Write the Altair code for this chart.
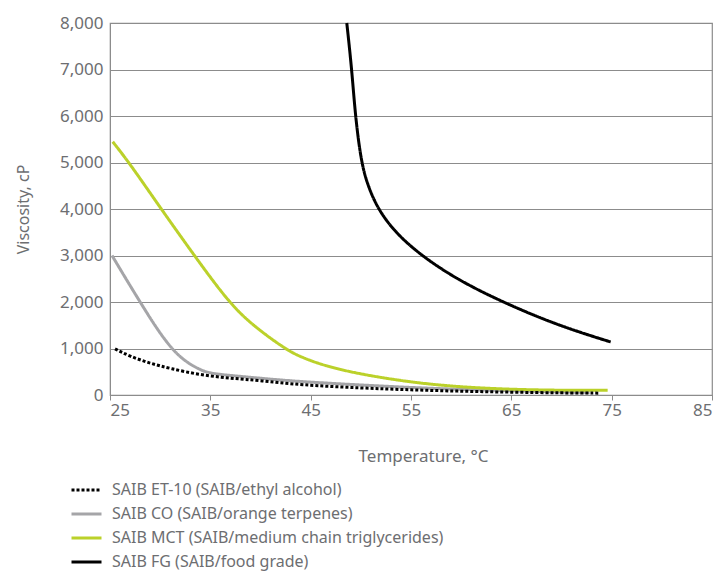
import altair as alt
import pandas as pd

series_names = [
    "SAIB ET-10 (SAIB/ethyl alcohol)",
    "SAIB CO (SAIB/orange terpenes)",
    "SAIB MCT (SAIB/medium chain triglycerides)",
    "SAIB FG (SAIB/food grade)",
]
colors = ["#000000", "#A5A5A8", "#BBD12A", "#000000"]

et10_t = [25.5, 27, 29, 31, 34, 37, 40, 44, 50, 55, 60, 65, 70, 73.8]
et10_v = [990, 830, 680, 570, 430, 360, 310, 215, 150, 110, 80, 60, 45, 40]

co_t = [25.2, 26.5, 28.0, 29.5, 31.1, 32.5, 34.0, 35.0, 37, 40, 44, 50, 55, 60, 65, 70, 72.8]
co_v = [3000, 2530, 2000, 1480, 1000, 720, 538, 466, 420, 360, 286, 215, 160, 120, 90, 65, 55]

mct_t = [25.27, 26.9, 30.1, 33.4, 36.8, 39.2, 42.4, 43.9, 46.5, 49.9, 55, 60, 65, 70, 74.6]
mct_v = [5447, 5000, 4000, 3000, 2000, 1500, 1000, 824, 620, 450, 270, 170, 120, 100, 100]

fg_t = [48.6, 49.1, 49.45, 50.04, 50.7, 51.7, 53.4, 56.0, 59.7, 64.3, 69.6, 74.9]
fg_v = [8000, 7000, 6000, 5000, 4500, 4000, 3500, 3000, 2470, 1980, 1500, 1140]

series_data = {
    series_names[0]: (et10_t, et10_v),
    series_names[1]: (co_t, co_v),
    series_names[2]: (mct_t, mct_v),
    series_names[3]: (fg_t, fg_v),
}
# draw order: dotted ET-10 last so it sits on top
draw_order = [series_names[1], series_names[2], series_names[3], series_names[0]]

rows = []
for name in draw_order:
    ts, vs = series_data[name]
    for i, (t, v) in enumerate(zip(ts, vs)):
        rows.append({"series": name, "temp": t, "visc": v, "order": i})
df = pd.DataFrame(rows)

font = "Noto Sans"
gray_text = "#6D6E71"
line_gray = "#8C8C8C"

chart = alt.Chart(df).mark_line(interpolate="basis", strokeWidth=3).encode(
    x=alt.X("temp:Q", title="Temperature, °C",
            scale=alt.Scale(domain=[25, 85], nice=False, zero=False),
            axis=alt.Axis(values=[25, 35, 45, 55, 65, 75, 85], grid=False,
                          tickSize=5, tickColor=line_gray, domainColor=line_gray,
                          labelFontSize=17, labelColor=gray_text, labelPadding=2,
                          titleFontSize=17, titleColor=gray_text, titleFontWeight="normal",
                          titleX=313, titleY=66, titleBaseline="alphabetic",
                          labelFont=font, titleFont=font)),
    y=alt.Y("visc:Q", title="Viscosity, cP",
            scale=alt.Scale(domain=[0, 8000], nice=False),
            axis=alt.Axis(values=[0, 1000, 2000, 3000, 4000, 5000, 6000, 7000, 8000],
                          format=",.0f", grid=True, gridColor=line_gray, gridWidth=1.2,
                          ticks=False, domainColor=line_gray,
                          labelFontSize=17, labelColor=gray_text, labelPadding=7,
                          titleFontSize=16, titleColor=gray_text, titleFontWeight="normal",
                          titleX=-82, titleBaseline="alphabetic",
                          labelFont=font, titleFont=font)),
    color=alt.Color("series:N", scale=alt.Scale(domain=series_names, range=colors),
                    legend=alt.Legend(title=None, orient="none", legendX=-40, legendY=455,
                                      symbolType="stroke", symbolSize=900, symbolStrokeWidth=3,
                                      labelFontSize=16, labelColor=gray_text, labelFont=font,
                                      labelOffset=9, labelLimit=0, rowPadding=0,
                                      clipHeight=24, direction="vertical")),
    strokeDash=alt.StrokeDash("series:N",
                              scale=alt.Scale(domain=series_names,
                                              range=[[3, 2], [1, 0], [1, 0], [1, 0]]),
                              legend=None),
    order="order:Q",
).properties(
    width=602, height=372,
    autosize=alt.AutoSizeParams(type="none"),
    padding={"left": 102, "top": 15, "right": 3, "bottom": 176},
).configure_view(stroke=line_gray, strokeWidth=1.2)

chart.save("out.html", embed_options={"renderer": "svg", "actions": False})
